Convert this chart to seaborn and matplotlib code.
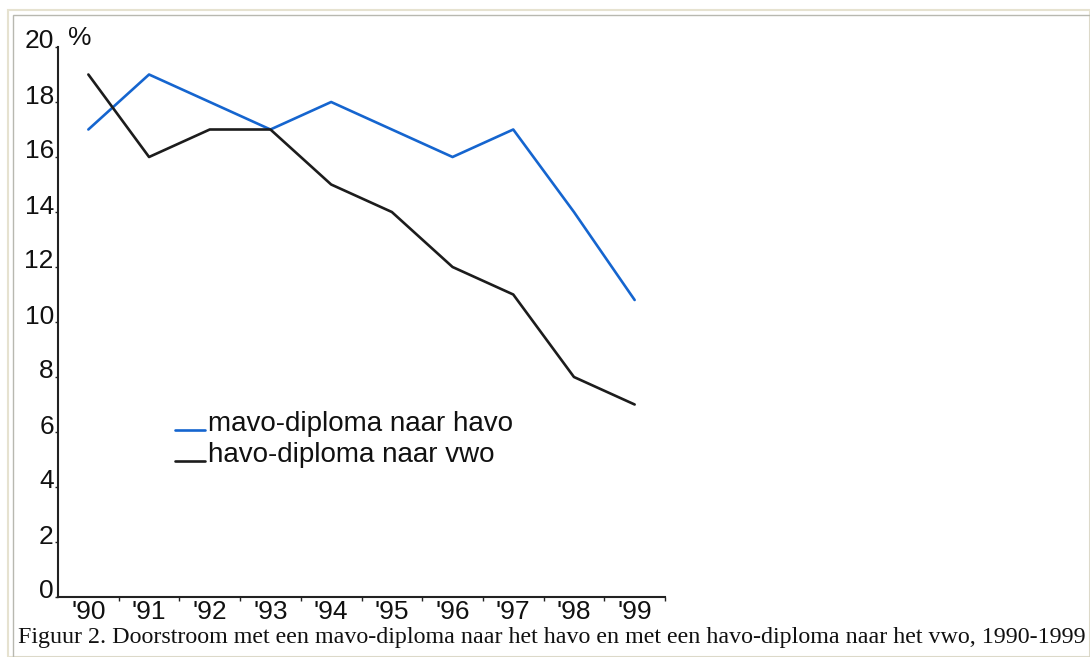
import matplotlib
matplotlib.use("Agg")
import matplotlib.pyplot as plt
import matplotlib.transforms as mtransforms
from matplotlib.legend_handler import HandlerLine2D
from matplotlib.patches import Rectangle
import pandas as pd
import seaborn as sns

years = ["'90", "'91", "'92", "'93", "'94", "'95", "'96", "'97", "'98", "'99"]
mavo_havo = [17, 19, 18, 17, 18, 17, 16, 17, 14, 10.8]
havo_vwo = [19, 16, 17, 17, 15, 14, 12, 11, 8, 7]
series_names = ["mavo-diploma naar havo", "havo-diploma naar vwo"]
caption = ("Figuur 2. Doorstroom met een mavo-diploma naar het havo en met een "
           "havo-diploma naar het vwo, 1990-1999")

df = pd.DataFrame({
    "pos": list(range(len(years))) * 2,
    "value": mavo_havo + havo_vwo,
    "serie": [series_names[0]] * len(years) + [series_names[1]] * len(years),
})


class BaselineLine(HandlerLine2D):
    # legend line drawn at the text baseline, like an underscore
    def create_artists(self, legend, orig_handle, xdescent, ydescent,
                       width, height, fontsize, trans):
        return super().create_artists(legend, orig_handle, xdescent,
                                      ydescent + height * 0.85, width, height,
                                      fontsize, trans)


sns.set_style("white")
plt.rcParams['font.family'] = ['Liberation Sans', 'DejaVu Sans']
plt.rcParams['text.color'] = '#111111'
plt.rcParams['xtick.color'] = '#111111'
plt.rcParams['ytick.color'] = '#111111'

fig = plt.figure(figsize=(10.9, 6.57), dpi=100)
ax = fig.add_axes([58 / 1090, 1 - 597 / 657, (665 - 58) / 1090, (597 - 47) / 657])

sns.lineplot(data=df, x="pos", y="value", hue="serie",
             palette=["#1565cf", "#1c1c1c"], linewidth=1.9, ax=ax)

ax.set_xlim(-0.5, 9.48)
ax.set_ylim(0, 20)
ax.set_xticks(range(len(years)))
ax.set_xticklabels(years)
ax.set_xticks([i + 0.5 for i in range(len(years))], minor=True)
ax.set_yticks(range(0, 21, 2))
ax.tick_params(axis="x", which="major", bottom=False, pad=-1, labelsize=19)
ax.tick_params(axis="x", which="minor", bottom=True, length=3, width=1,
               direction="out", color="#222222")
ax.tick_params(axis="y", left=True, length=2, width=1, pad=1, labelsize=19,
               color="#222222")
ax.set_xlabel("")
ax.set_ylabel("")
for s in ["top", "right"]:
    ax.spines[s].set_visible(False)
for s in ["left", "bottom"]:
    ax.spines[s].set_color("#222222")
    ax.spines[s].set_linewidth(1.5)

# y labels sit a little above their tick
shift = mtransforms.ScaledTranslation(0, 0.08, fig.dpi_scale_trans)
for lab in ax.get_yticklabels():
    lab.set_transform(lab.get_transform() + shift)

ax.text(0.016, 1.016, "%", transform=ax.transAxes, fontsize=19,
        va="center", ha="left")

ax.legend(loc="upper left", bbox_to_anchor=(0.193, 0.338), frameon=False,
          borderpad=0, borderaxespad=0, handlelength=1.08, handletextpad=0.1,
          labelspacing=0.18, fontsize=20,
          handler_map={matplotlib.lines.Line2D: BaselineLine()})

# frame around the picture
fig.patches.append(Rectangle((8 / 1090, 0), 1 - 8 / 1090, 1 - 10 / 657,
                             transform=fig.transFigure, fill=False,
                             edgecolor="#e6e2d0", linewidth=1.5))
fig.patches.append(Rectangle((13 / 1090, 0), 1 - 13 / 1090, 1 - 15 / 657,
                             transform=fig.transFigure, fill=False,
                             edgecolor="#b8b8b0", linewidth=1))

fig.text(18 / 1090, 1 - 637 / 657, caption, fontsize=17.3, va="center", ha="left",
         family=["Liberation Serif", "DejaVu Serif"])

fig.savefig("out.png", dpi=100)
